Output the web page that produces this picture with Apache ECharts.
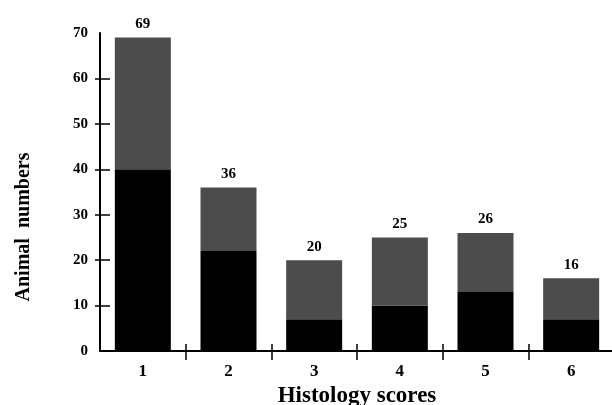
<!DOCTYPE html>
<html>
<head>
<meta charset="utf-8">
<script src="https://cdn.jsdelivr.net/npm/echarts@6/dist/echarts.min.js"></script>
<style>
html,body{margin:0;padding:0;background:#fff;}
#chart{width:612px;height:405px;}
</style>
</head>
<body>
<div id="chart"></div>
<script>
var categories = ['1', '2', '3', '4', '5', '6'];
var totals = [69, 36, 20, 25, 26, 16];
var blackPart = [40, 22, 7, 10, 13, 7];
var grayPart = [29, 14, 13, 15, 13, 9];
var yTicks = [10, 20, 30, 40, 50, 60];

var FONT = "'Liberation Serif', 'Times New Roman', serif";
var chart = echarts.init(document.getElementById('chart'), null, {renderer: 'canvas'});

var option = {
  animation: false,
  backgroundColor: '#ffffff',
  grid: {left: 100, top: 33, width: 514, height: 318, containLabel: false, outerBoundsMode: 'none'},
  xAxis: [{
    type: 'category',
    data: categories,
    position: 'bottom',
    boundaryGap: true,
    name: 'Histology scores',
    nameLocation: 'middle',
    nameGap: 33,
    nameTextStyle: {fontFamily: FONT, fontWeight: 'bold', fontSize: 23, color: '#000'},
    axisLine: {show: true, lineStyle: {color: '#000', width: 2}},
    axisTick: {show: true, length: 9, inside: false, interval: function (i) { return i > 0; }, lineStyle: {color: '#000', width: 1.5}},
    axisLabel: {fontFamily: FONT, fontWeight: 'bold', fontSize: 17, color: '#000', margin: 12},
    splitLine: {show: false}
  }, {
    type: 'category',
    data: categories,
    position: 'bottom',
    boundaryGap: true,
    axisLine: {show: false},
    axisTick: {show: true, length: 7, inside: true, interval: function (i) { return i > 0; }, lineStyle: {color: '#000', width: 1.5}},
    axisLabel: {show: false},
    splitLine: {show: false}
  }],
  yAxis: [{
    type: 'value',
    min: 0,
    max: 70,
    interval: 10,
    name: 'Animal  numbers',
    nameLocation: 'middle',
    nameGap: 66,
    nameRotate: 90,
    nameTextStyle: {fontFamily: FONT, fontWeight: 'bold', fontSize: 20, color: '#000', padding: [0, 70, 0, 0]},
    axisLine: {show: true, lineStyle: {color: '#000', width: 2}},
    axisTick: {show: true, length: 5, inside: false, customValues: yTicks, lineStyle: {color: '#000', width: 1.5}},
    axisLabel: {fontFamily: FONT, fontWeight: 'bold', fontSize: 15, color: '#000', margin: 12},
    splitLine: {show: false}
  }, {
    type: 'value',
    min: 0,
    max: 70,
    interval: 10,
    position: 'left',
    axisLine: {show: false},
    axisTick: {show: true, length: 10, inside: true, customValues: yTicks, lineStyle: {color: '#000', width: 1.5}},
    axisLabel: {show: false},
    splitLine: {show: false}
  }],
  series: [{
    name: 'black',
    type: 'bar',
    stack: 'total',
    xAxisIndex: 0,
    yAxisIndex: 0,
    barWidth: 56,
    data: blackPart,
    itemStyle: {color: '#000000'}
  }, {
    name: 'gray',
    type: 'bar',
    stack: 'total',
    xAxisIndex: 0,
    yAxisIndex: 0,
    barWidth: 56,
    data: grayPart,
    itemStyle: {color: '#4c4c4c'},
    label: {
      show: true,
      position: 'top',
      distance: 6,
      fontFamily: FONT,
      fontWeight: 'bold',
      fontSize: 15,
      color: '#000',
      formatter: function (p) { return String(totals[p.dataIndex]); }
    }
  }]
};
chart.setOption(option);
</script>
</body>
</html>
